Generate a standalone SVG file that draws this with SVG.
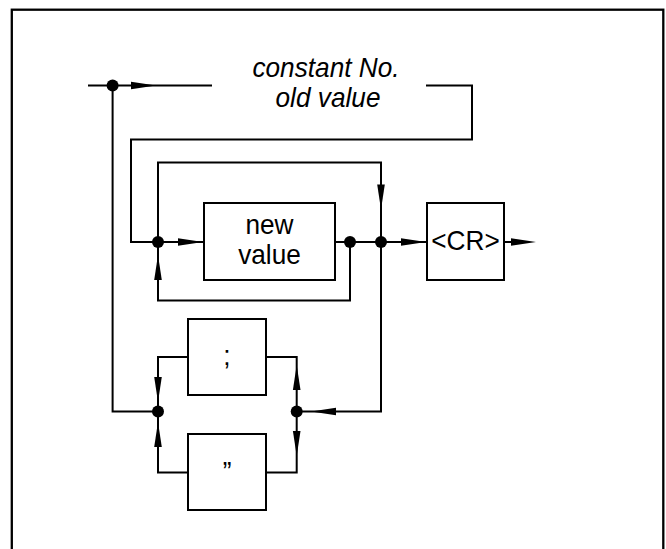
<svg xmlns="http://www.w3.org/2000/svg" width="666" height="549" viewBox="0 0 666 549">
<defs>
<style>
.ln{fill:none;stroke:#000;stroke-width:2;stroke-linejoin:miter;stroke-linecap:butt}
.box{fill:#fff;stroke:#000;stroke-width:2}
.dot{fill:#000}
.ar{fill:#000}
.t{font-family:"Liberation Sans",Arial,sans-serif;font-size:28.5px;fill:#000;text-anchor:middle}
.it{font-style:italic}
</style>
<path id="ah" d="M0,0 L-25,-3.8 L-25,3.8 Z"/>
</defs>
<rect x="0" y="0" width="666" height="549" fill="#fff"/>
<rect x="11.8" y="9.7" width="651.5" height="560" fill="none" stroke="#000" stroke-width="2.3"/>

<g id="connectors">
<path class="ln" d="M88,85.5 H212"/>
<path class="ln" d="M426,85.5 H472 V139.5 H131 V242 H158"/>
<path class="ln" d="M112.6,85.5 V411.5 H158"/>
<path class="ln" d="M158,242 V162.5 H381 V242"/>
<path class="ln" d="M158,242 H204"/>
<path class="ln" d="M335,242 H427"/>
<path class="ln" d="M504,242 H512"/>
<path class="ln" d="M350,242 V300.5 H158 V242"/>
<path class="ln" d="M381,242 V411.5 H296.7"/>
<path class="ln" d="M158,411.5 V357 H188"/>
<path class="ln" d="M266,357 H296.7 V472.5 H266"/>
<path class="ln" d="M188,472.5 H158 V411.5"/>
<use href="#ah" class="ar" transform="translate(156,85.5)"/>
<use href="#ah" class="ar" transform="translate(381,209.5) rotate(90)"/>
<use href="#ah" class="ar" transform="translate(203,242)"/>
<use href="#ah" class="ar" transform="translate(158,255) rotate(-90)"/>
<use href="#ah" class="ar" transform="translate(426,242)"/>
<use href="#ah" class="ar" transform="translate(536,242)"/>
<use href="#ah" class="ar" transform="translate(158,402) rotate(90)"/>
<use href="#ah" class="ar" transform="translate(158,422) rotate(-90)"/>
<use href="#ah" class="ar" transform="translate(296.7,365) rotate(-90)"/>
<use href="#ah" class="ar" transform="translate(296.7,456) rotate(90)"/>
<use href="#ah" class="ar" transform="translate(311,411.5) rotate(180)"/>
<circle class="dot" cx="112.6" cy="85.5" r="6"/>
<circle class="dot" cx="158" cy="242" r="6"/>
<circle class="dot" cx="350" cy="242" r="6"/>
<circle class="dot" cx="381" cy="242" r="6"/>
<circle class="dot" cx="158" cy="411.5" r="6"/>
<circle class="dot" cx="296.7" cy="411.5" r="6"/>
</g>

<g id="label-constant">
<text class="t it" transform="translate(326,77) scale(0.92,1)">constant No.</text>
<text class="t it" transform="translate(328,107) scale(0.92,1)">old value</text>
</g>

<g id="node-new-value">
<rect class="box" x="204" y="203" width="131" height="77"/>
<text class="t" transform="translate(269.5,234) scale(0.92,1)">new</text>
<text class="t" transform="translate(269.5,264) scale(0.92,1)">value</text>
</g>

<g id="node-cr">
<rect class="box" x="427" y="203" width="77" height="77"/>
<text class="t" transform="translate(465.5,250) scale(0.92,1)">&lt;CR&gt;</text>
</g>

<g id="node-semicolon">
<rect class="box" x="188" y="319" width="78" height="76"/>
<text class="t" transform="translate(227,365) scale(0.92,1)">;</text>
</g>

<g id="node-quote">
<rect class="box" x="188" y="434" width="78" height="76"/>
<text class="t" transform="translate(227,481) scale(0.92,1)">”</text>
</g>
</svg>
